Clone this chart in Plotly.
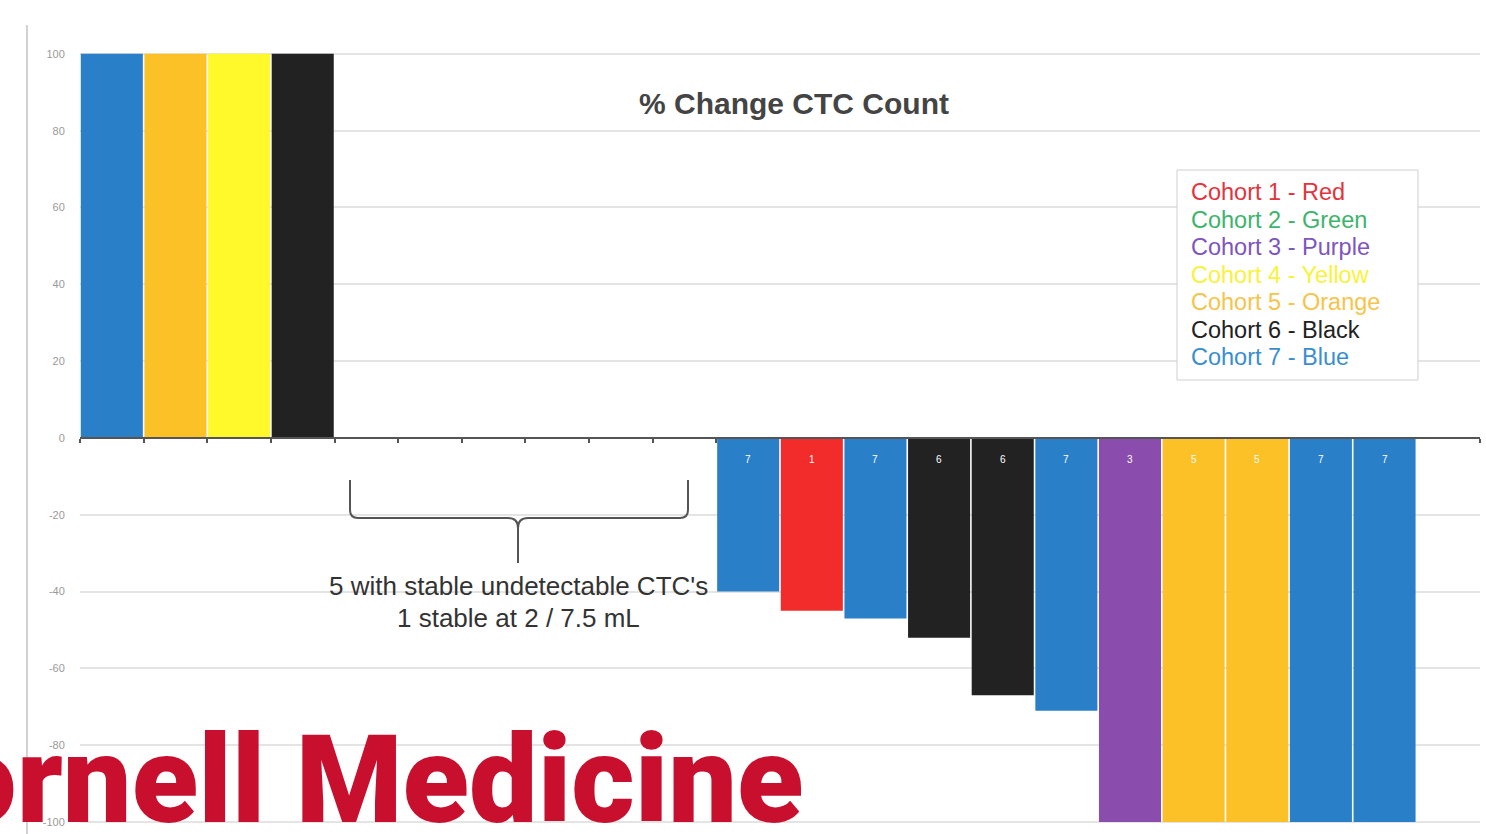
import plotly.graph_objects as go

# Patients in display order (22 slots along the x axis)
patient_slots = list(range(22))
pct_change = [100, 100, 100, 100,
              0, 0, 0, 0, 0, 0,
              -40, -45, -47, -52, -67, -71, -100, -100, -100, -100, -100,
              None]
cohort = [7, 5, 4, 6,
          None, None, None, None, None, None,
          7, 1, 7, 6, 6, 7, 3, 5, 5, 7, 7,
          None]

y_ticks = [-100, -80, -60, -40, -20, 0, 20, 40, 60, 80, 100]

legend_labels = ["Cohort 1 - Red", "Cohort 2 - Green", "Cohort 3 - Purple",
                 "Cohort 4 - Yellow", "Cohort 5 - Orange", "Cohort 6 - Black",
                 "Cohort 7 - Blue"]

bar_colors = {1: "#F22B2B", 2: "#3BB36B", 3: "#8A4DAE", 4: "#FFF92B",
              5: "#FCC127", 6: "#222222", 7: "#2A80C8"}
legend_text_colors = ["#E3333D", "#3DB46C", "#7E55BF", "#F8F23A",
                      "#F6C44A", "#222222", "#3A8ED0"]

W, H = 1486, 834
ML, MR, MT, MB = 80, 6, 40, 0
Y_MIN, Y_MAX = -103.1, 103.6
PW, PH = W - ML - MR, H - MT - MB


def px(x):
    return (x - ML) / PW


def py(y):
    return (H - MB - y) / PH


colors = [bar_colors.get(c, "rgba(0,0,0,0)") for c in cohort]

fig = go.Figure()
fig.add_trace(go.Bar(
    x=patient_slots, y=pct_change,
    marker=dict(color=colors, line=dict(width=0)),
    hoverinfo="skip", showlegend=False,
))

# Cohort number written at the top of each declining bar
for xi, v, c in zip(patient_slots, pct_change, cohort):
    if v is not None and v < 0 and c is not None:
        fig.add_annotation(x=xi, y=-5.5, xref="x", yref="y", text=str(c),
                           showarrow=False, xanchor="center", yanchor="middle",
                           font=dict(family="Liberation Sans", size=10, color="white"))


def note(x, y, text, size, color, **kw):
    font = dict(family="Liberation Sans", size=size, color=color)
    font.update(kw.pop("font", {}))
    opts = dict(x=px(x), y=py(y), xref="paper", yref="paper", text=text,
                showarrow=False, xanchor="center", yanchor="middle", font=font)
    opts.update(kw)
    fig.add_annotation(**opts)


# Chart title
note(794, 104, "<b>% Change CTC Count</b>", 30, "#444444")
# Bracket caption
note(518, 586, "5 with stable undetectable CTC's", 26, "#333333")
note(518, 618, "1 stable at 2 / 7.5 mL", 26, "#333333")

# Colour key: framed box with one coloured line per cohort
fig.add_shape(type="rect", xref="paper", yref="paper",
              x0=px(1177), x1=px(1418), y0=py(170), y1=py(380),
              line=dict(color="#CFCFCF", width=1), fillcolor="white")
for i, (lab, col) in enumerate(zip(legend_labels, legend_text_colors)):
    note(1189, 192 + 27.5 * i, lab, 23.5, col, xanchor="left")

# Institution wordmark
note(806, 780, "Cornell Medicine", 122, "#C8102E", xanchor="right",
     font=dict(family="Roboto", weight=900))

# Curly brace over the stable patients
pts = [(350, 480), (350, 510), (350, 518), (358, 518), (508, 518), (518, 518),
       (518, 528), (518, 563), (518, 528), (518, 518), (528, 518), (680, 518),
       (688, 518), (688, 510), (688, 480)]
P = [(px(a), py(b)) for a, b in pts]
path = (f"M {P[0][0]},{P[0][1]} L {P[1][0]},{P[1][1]} "
        f"Q {P[2][0]},{P[2][1]} {P[3][0]},{P[3][1]} L {P[4][0]},{P[4][1]} "
        f"Q {P[5][0]},{P[5][1]} {P[6][0]},{P[6][1]} L {P[7][0]},{P[7][1]} "
        f"M {P[8][0]},{P[8][1]} Q {P[9][0]},{P[9][1]} {P[10][0]},{P[10][1]} "
        f"L {P[11][0]},{P[11][1]} Q {P[12][0]},{P[12][1]} {P[13][0]},{P[13][1]} "
        f"L {P[14][0]},{P[14][1]}")
fig.add_shape(type="path", path=path, xref="paper", yref="paper",
              line=dict(color="#555555", width=2))

# Slide border line on the left
fig.add_shape(type="line", xref="paper", yref="paper",
              x0=px(27), x1=px(27), y0=py(25), y1=py(834),
              line=dict(color="#D2D2D2", width=2))

zero_pos = (0 - Y_MIN) / (Y_MAX - Y_MIN)
boundary_ticks = [i - 0.5 for i in range(11)] + [21.5]

fig.update_layout(
    width=W, height=H,
    margin=dict(l=ML, r=MR, t=MT, b=MB),
    paper_bgcolor="white", plot_bgcolor="white",
    bargap=0.025,
    showlegend=False,
    xaxis=dict(range=[-0.5, 21.5], showgrid=False, zeroline=False,
               showticklabels=False, tickvals=boundary_ticks,
               ticks="outside", ticklen=4, tickwidth=1.5, tickcolor="#555555",
               showline=True, linecolor="#555555", linewidth=2,
               anchor="free", position=zero_pos),
    yaxis=dict(range=[Y_MIN, Y_MAX], tickvals=y_ticks,
               ticktext=[str(t) for t in y_ticks],
               showgrid=True, gridcolor="#E4E4E4", gridwidth=1.5,
               zeroline=False, showline=False,
               ticks="outside", ticklen=12, tickcolor="rgba(0,0,0,0)",
               tickfont=dict(family="Liberation Sans", size=11, color="#9A9A9A")),
)

fig.write_html("out.html")
